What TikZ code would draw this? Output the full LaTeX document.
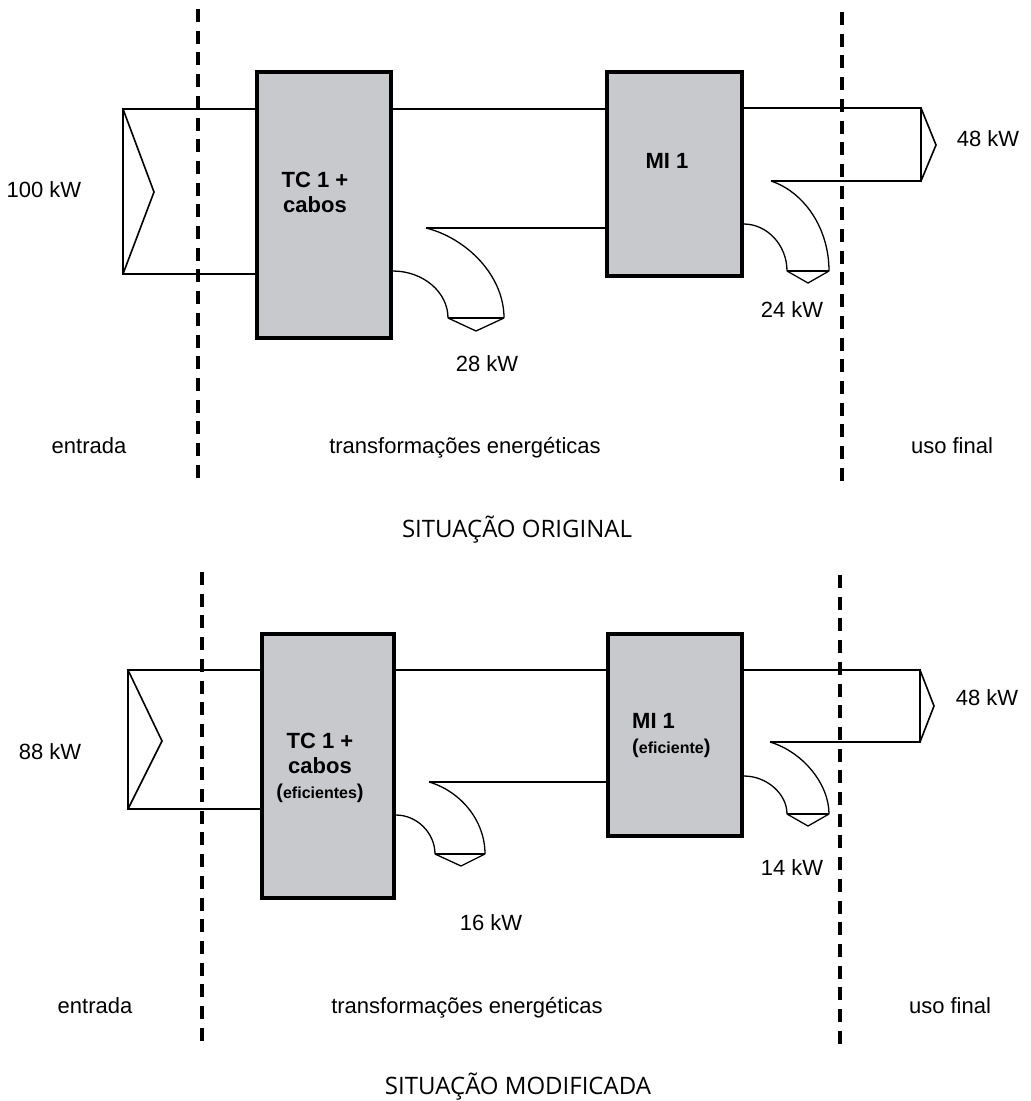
\documentclass[tikz,border=0pt]{standalone}
\usepackage{fontspec}
\setmainfont{Liberation Sans}
\newfontfamily\titlefont{Open Sans}
\definecolor{boxgray}{RGB}{200,201,204}
\begin{document}
\begin{tikzpicture}[x=1pt,y=-1pt,
  flow/.style={line width=1.6pt, line join=miter},
  curve/.style={line width=1.3pt},
  boxnode/.style={draw, line width=3.5pt, fill=boxgray, inner sep=0pt},
  divider/.style={line width=4pt, dash pattern=on 13pt off 8.7pt},
  lbl/.style={font=\fontsize{22}{26}\selectfont, inner sep=0pt, anchor=base},
  blbl/.style={font=\fontsize{22}{26}\selectfont\bfseries, inner sep=0pt, anchor=base},
  slbl/.style={font=\fontsize{16}{20}\selectfont\bfseries, inner sep=0pt, anchor=base},
  ttl/.style={font=\titlefont\fontsize{24}{28}\selectfont, inner sep=0pt, anchor=base}]
\useasboundingbox (0,0) rectangle (1031,1101);

% ================= SITUACAO ORIGINAL =================
\draw[divider] (198,9) -- (198,482);
\draw[divider] (842,12) -- (842,485);

\node[boxnode, minimum width=134pt, minimum height=266pt] (tcA) at (324,205) {};
\node[boxnode, minimum width=135pt, minimum height=204pt] (miA) at (674.5,174) {};

% input
\coordinate (inAt) at (123,109);
\coordinate (inAb) at (123,274);
\coordinate (inAtip) at (154,192);
\draw[flow] (tcA.west |- inAt) -- (inAt) -- (inAb) -- (tcA.west |- inAb);
\draw[flow] (inAt) -- (inAtip) -- (inAb);
% TC -> MI
\draw[flow] (tcA.east |- inAt) -- (miA.west |- inAt);
% TC loss
\coordinate (lA1) at (392,271);
\coordinate (lA2) at (448,318);
\coordinate (lA3) at (426,228);
\coordinate (lA4) at (504,318);
\coordinate (lAtip) at (476,331);
\draw[curve] (tcA.east |- lA1) .. controls (423,271) and (448,292) .. (lA2);
\draw[curve] (lA3) .. controls (466,238) and (504,275) .. (lA4);
\draw[flow] (lA3) -- (miA.west |- lA3);
\draw[curve] (lA2) -- (lA4);
\draw[curve] (lA2) -- (lAtip) -- (lA4);
% output
\coordinate (oAt) at (921,108);
\coordinate (oAb) at (921,181);
\coordinate (oAtip) at (936,145);
\coordinate (mA3) at (771,181);
\draw[flow] (miA.east |- oAt) -- (oAt) -- (oAb) -- (mA3);
\draw[flow] (oAt) -- (oAtip) -- (oAb);
% MI loss
\coordinate (mA1) at (743,224);
\coordinate (mA2) at (787,271);
\coordinate (mA4) at (829,271);
\coordinate (mAtip) at (808,283);
\draw[curve] (miA.east |- mA1) .. controls (767,224) and (787,245) .. (mA2);
\draw[curve] (mA3) .. controls (804,192) and (829,228) .. (mA4);
\draw[curve] (mA2) -- (mA4);
\draw[curve] (mA2) -- (mAtip) -- (mA4);

% labels
\node[lbl] (inA) at (44,197) {100 kW};
\node[blbl] (tcAt1) at (315,187) {TC 1 +};
\node[blbl] (tcAt2) at (315,212) {cabos};
\node[blbl] (miAt) at (667,168) {MI 1};
\node[lbl] (lossA1) at (487,371) {28 kW};
\node[lbl] (lossA2) at (792,317) {24 kW};
\node[lbl] (outA) at (988,146) {48 kW};
\node[lbl] (entA) at (89,453) {entrada};
\node[lbl] (trA) at (465,453) {transformações energéticas};
\node[lbl] (usoA) at (952,453) {uso final};
\node[ttl] (titleA) at (517,537) {SITUAÇÃO ORIGINAL};

% ================= SITUACAO MODIFICADA =================
\draw[divider] (202,572) -- (202,1043);
\draw[divider] (840,575) -- (840,1045);

\node[boxnode, minimum width=132pt, minimum height=264pt] (tcB) at (328,766) {};
\node[boxnode, minimum width=134pt, minimum height=202pt] (miB) at (675,735) {};

% input
\coordinate (inBt) at (128,670);
\coordinate (inBb) at (128,809);
\coordinate (inBtip) at (162,741);
\draw[flow] (tcB.west |- inBt) -- (inBt) -- (inBb) -- (tcB.west |- inBb);
\draw[flow] (inBt) -- (inBtip) -- (inBb);
% TC -> MI
\draw[flow] (tcB.east |- inBt) -- (miB.west |- inBt);
% TC loss
\coordinate (lB1) at (395,815);
\coordinate (lB2) at (435,854);
\coordinate (lB3) at (429,782);
\coordinate (lB4) at (485,854);
\coordinate (lBtip) at (461,866);
\draw[curve] (tcB.east |- lB1) .. controls (417,815) and (435,833) .. (lB2);
\draw[curve] (lB3) .. controls (460,791) and (485,820) .. (lB4);
\draw[flow] (lB3) -- (miB.west |- lB3);
\draw[curve] (lB2) -- (lB4);
\draw[curve] (lB2) -- (lBtip) -- (lB4);
% output
\coordinate (oBt) at (920,670);
\coordinate (oBb) at (920,742);
\coordinate (oBtip) at (934,706);
\coordinate (mB3) at (770,742);
\draw[flow] (miB.east |- oBt) -- (oBt) -- (oBb) -- (mB3);
\draw[flow] (oBt) -- (oBtip) -- (oBb);
% MI loss
\coordinate (mB1) at (743,776);
\coordinate (mB2) at (787,814);
\coordinate (mB4) at (829,814);
\coordinate (mBtip) at (808,826);
\draw[curve] (miB.east |- mB1) .. controls (767,776) and (787,794) .. (mB2);
\draw[curve] (mB3) .. controls (803,752) and (829,784) .. (mB4);
\draw[curve] (mB2) -- (mB4);
\draw[curve] (mB2) -- (mBtip) -- (mB4);

% labels
\node[lbl] (inB) at (50,759) {88 kW};
\node[blbl] (tcBt1) at (320,748) {TC 1 +};
\node[blbl] (tcBt2) at (320,773) {cabos};
\node[slbl] (tcBt3) at (320,798) {{\fontsize{20}{20}\selectfont(}eficientes{\fontsize{20}{20}\selectfont)}};
\node[blbl, anchor=base west] (miBt) at (632,728) {MI 1};
\node[slbl, anchor=base west] (miBt2) at (632,753) {{\fontsize{20}{20}\selectfont(}eficiente{\fontsize{20}{20}\selectfont)}};
\node[lbl] (lossB1) at (491,930) {16 kW};
\node[lbl] (lossB2) at (792,875) {14 kW};
\node[lbl] (outB) at (987,705) {48 kW};
\node[lbl] (entB) at (95,1013) {entrada};
\node[lbl] (trB) at (467,1013) {transformações energéticas};
\node[lbl] (usoB) at (950,1013) {uso final};
\node[ttl] (titleB) at (518,1094) {SITUAÇÃO MODIFICADA};
\end{tikzpicture}
\end{document}
